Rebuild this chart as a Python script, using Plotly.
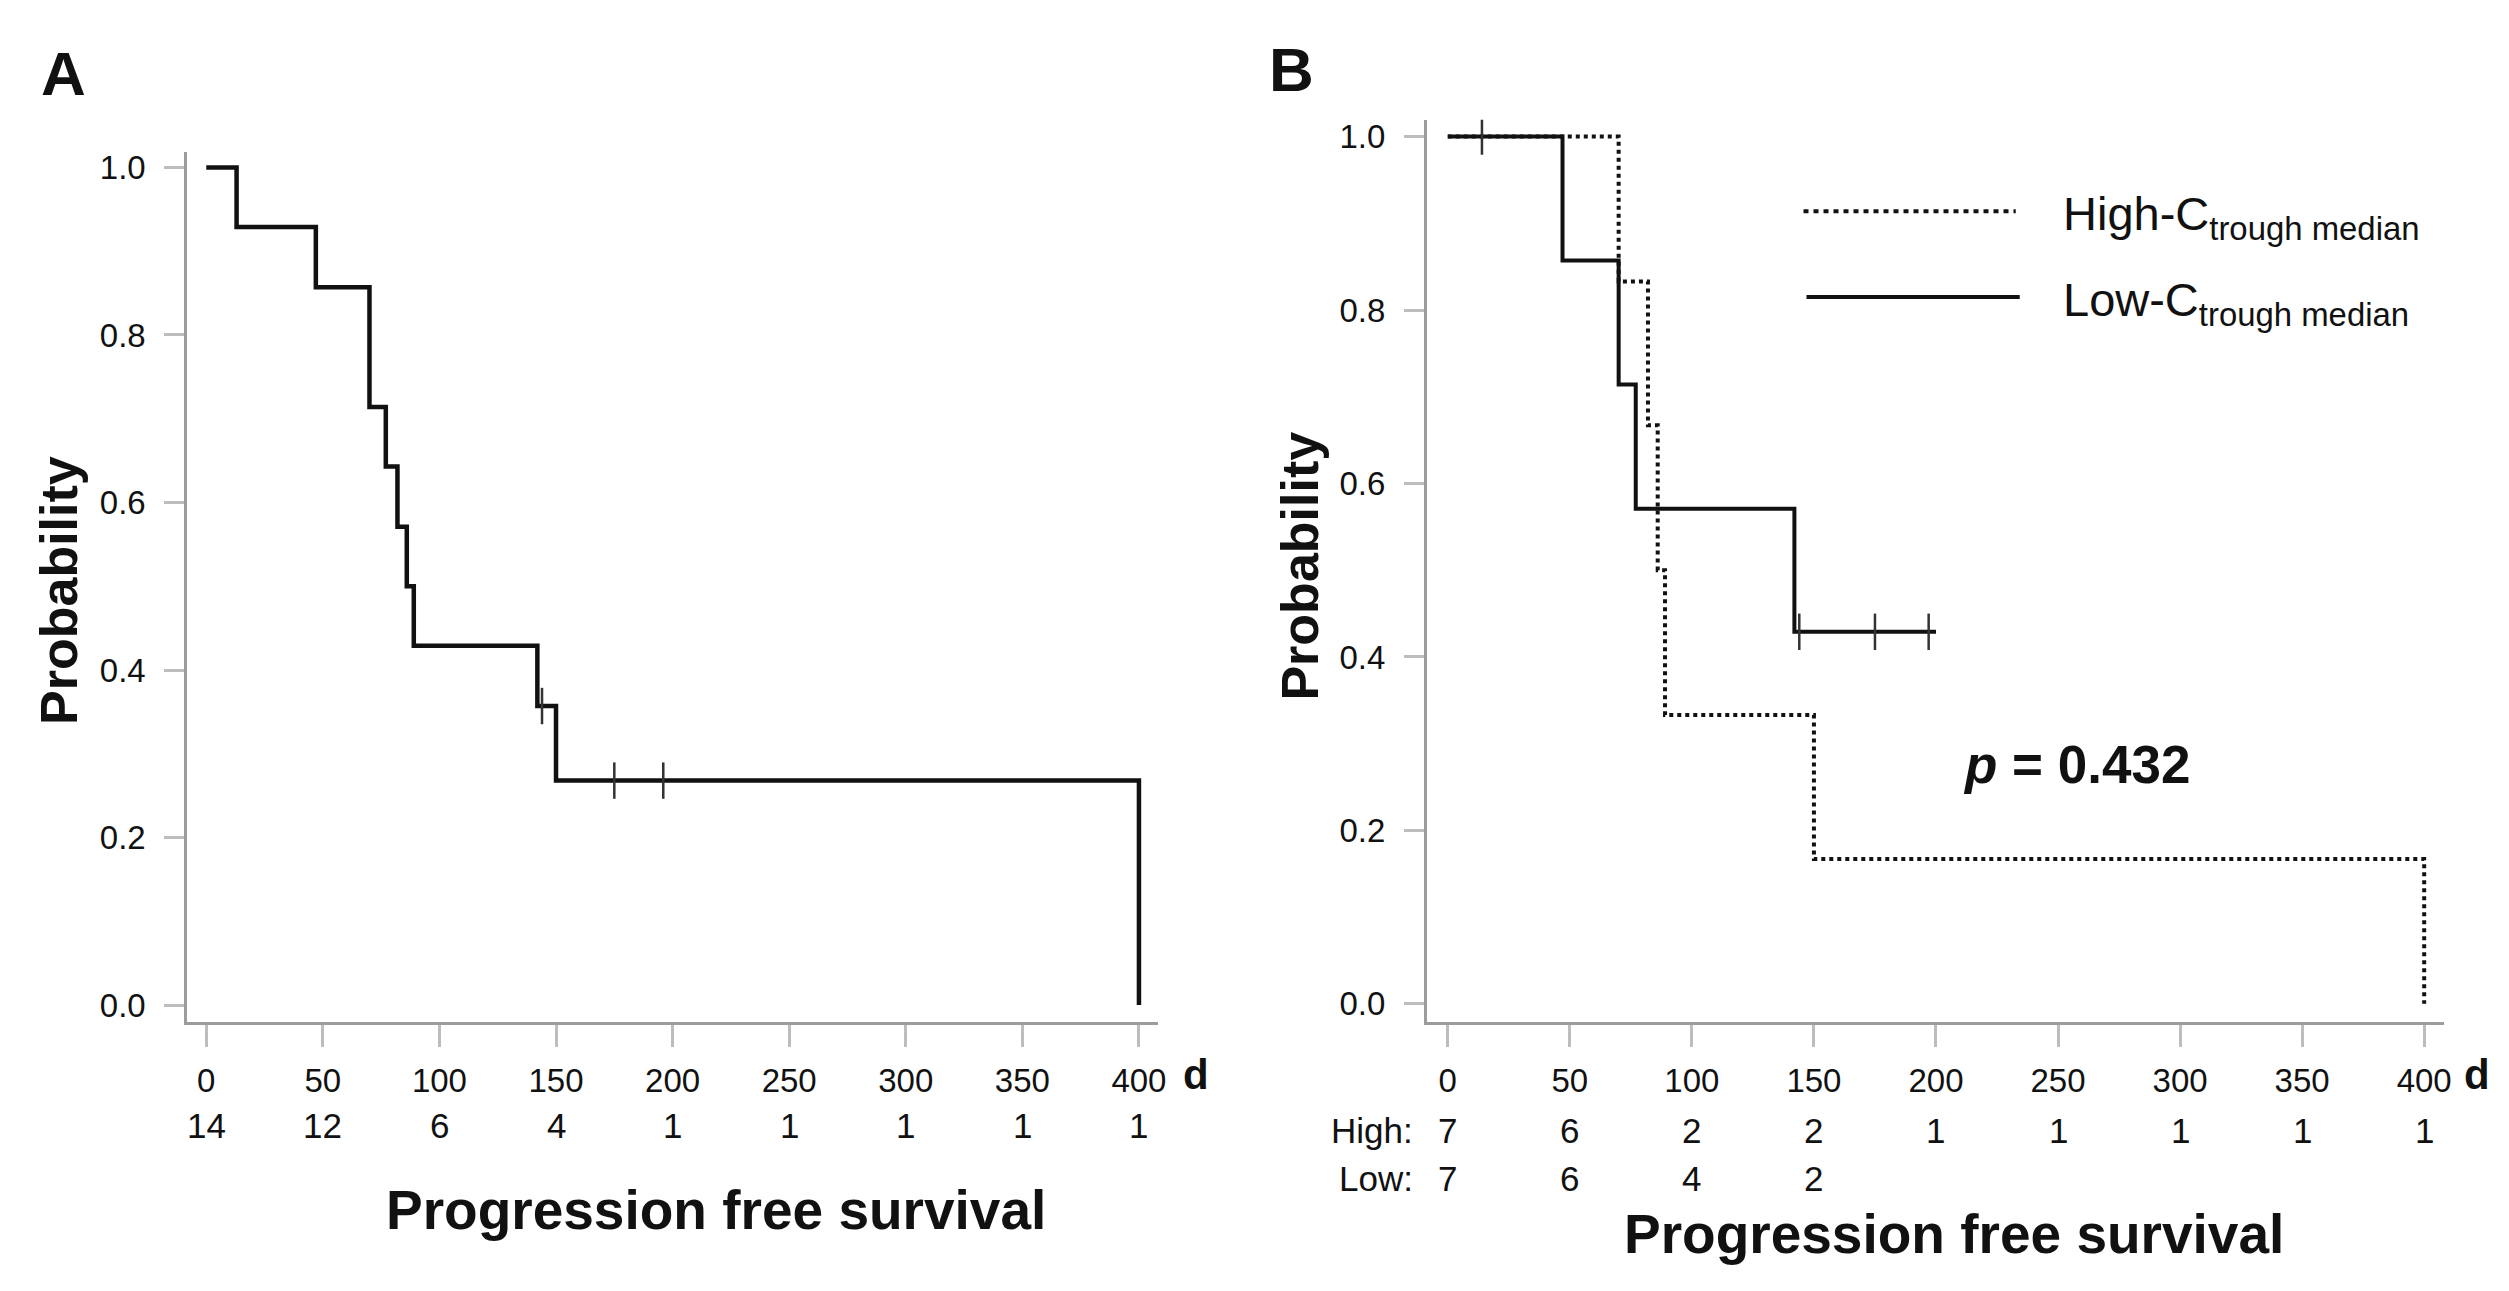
import plotly.graph_objects as go

# ---------------- data ----------------
x_ticks = [0, 50, 100, 150, 200, 250, 300, 350, 400]
y_ticks = [0.0, 0.2, 0.4, 0.6, 0.8, 1.0]

# Panel A (all patients)
a_times = [0, 13, 47, 70, 77, 82, 86, 89, 142, 150, 400]
a_surv = [1.0, 0.929, 0.857, 0.714, 0.643, 0.571, 0.500, 0.429, 0.357, 0.268, 0.0]
a_censor_times = [144, 175, 196]
a_censor_surv = [0.357, 0.268, 0.268]
a_at_risk = [14, 12, 6, 4, 1, 1, 1, 1, 1]

# Panel B: High-C trough median
hi_times = [0, 70, 82, 86, 89, 150, 400]
hi_surv = [1.0, 0.833, 0.667, 0.500, 0.333, 0.167, 0.0]
hi_censor_times = [14]
hi_censor_surv = [1.0]
hi_at_risk = [7, 6, 2, 2, 1, 1, 1, 1, 1]

# Panel B: Low-C trough median
lo_times = [0, 47, 70, 77, 142, 200]
lo_surv = [1.0, 0.857, 0.714, 0.571, 0.429, 0.429]
lo_censor_times = [144, 175, 197]
lo_censor_surv = [0.429, 0.429, 0.429]
lo_at_risk = [7, 6, 4, 2]

p_text = "<b><i>p</i> = 0.432</b>"

# ---------------- figure ----------------
W, H = 2509, 1291
FONT = "Arial, Liberation Sans, sans-serif"
BLACK = "#111111"


def fx(p):
    return p / W


def fy(p):
    return 1 - p / H


fig = go.Figure()

# Panel A curve
fig.add_trace(go.Scatter(x=a_times, y=a_surv, mode="lines", line=dict(shape="hv", color=BLACK, width=4.5),
                         xaxis="x", yaxis="y", showlegend=False))
fig.add_trace(go.Scatter(x=a_censor_times, y=a_censor_surv, mode="markers",
                         marker=dict(symbol="line-ns", size=26, line=dict(width=2.5, color="#333333")),
                         xaxis="x", yaxis="y", showlegend=False))

# Panel B curves
fig.add_trace(go.Scatter(x=hi_times, y=hi_surv, mode="lines",
                         line=dict(shape="hv", color=BLACK, width=4, dash="4px,4px"),
                         xaxis="x2", yaxis="y2", showlegend=False))
fig.add_trace(go.Scatter(x=lo_times, y=lo_surv, mode="lines",
                         line=dict(shape="hv", color=BLACK, width=4),
                         xaxis="x2", yaxis="y2", showlegend=False))
fig.add_trace(go.Scatter(x=hi_censor_times + lo_censor_times, y=hi_censor_surv + lo_censor_surv, mode="markers",
                         marker=dict(symbol="line-ns", size=26, line=dict(width=2.5, color="#333333")),
                         xaxis="x2", yaxis="y2", showlegend=False))

ax_common = dict(showgrid=False, zeroline=False, showline=True, linecolor="#9c9c9c", linewidth=3,
                 ticks="outside", tickcolor="#bdbdbd", tickwidth=3,
                 tickfont=dict(family=FONT, size=33, color="#111111"))

fig.update_layout(
    width=W, height=H,
    margin=dict(l=0, r=0, t=0, b=0),
    paper_bgcolor="white", plot_bgcolor="white",
    font=dict(family=FONT, color="#111111"),
    xaxis=dict(domain=[fx(188), fx(1162)], range=[-8.12, 408.1], tickvals=x_ticks, ticklen=22,
               ticklabelstandoff=6, anchor="y", **ax_common),
    yaxis=dict(domain=[fy(1023), fy(150)], range=[-0.02, 1.019], tickvals=y_ticks, tickformat=".1f",
               ticklen=20, ticklabelstandoff=12, anchor="x", **ax_common),
    xaxis2=dict(domain=[fx(1432), fx(2453)], range=[-8.57, 408.2], tickvals=x_ticks, ticklen=22,
                ticklabelstandoff=6, anchor="y2", **ax_common),
    yaxis2=dict(domain=[fy(1023), fy(118)], range=[-0.0207, 1.0195], tickvals=y_ticks, tickformat=".1f",
                ticklen=20, ticklabelstandoff=12, anchor="x2", **ax_common),
)

ann = []


def text(x, y, s, size, bold=False, xref="paper", xanchor="center", yanchor="middle", angle=0):
    ann.append(dict(x=x, y=y, xref=xref, yref="paper", text=(f"<b>{s}</b>" if bold else s),
                    showarrow=False, xanchor=xanchor, yanchor=yanchor, textangle=angle,
                    font=dict(family=FONT, size=size, color="#111111")))


# panel letters
text(fx(64), fy(72), "A", 62, bold=True)
text(fx(1296), fy(68), "B", 62, bold=True)

# axis titles
text(fx(59), fy(590), "Probability", 52, bold=True, angle=-90)
text(fx(1305), fy(566), "Probability", 52, bold=True, angle=-90)
text(fx(719), fy(1212), "Progression free survival", 55, bold=True)
text(fx(1961), fy(1236), "Progression free survival", 55, bold=True)

# unit labels
text(fx(1200), fy(1076), "d", 42, bold=True)
text(fx(2486), fy(1076), "d", 42, bold=True)

# numbers at risk
for t, n in zip(x_ticks, a_at_risk):
    text(t, fy(1127), str(n), 35, xref="x")
text(fx(1420), fy(1132), "High:", 35, xanchor="right")
text(fx(1420), fy(1180), "Low:", 35, xanchor="right")
for t, n in zip(x_ticks, hi_at_risk):
    text(t, fy(1132), str(n), 35, xref="x2")
for t, n in zip(x_ticks, lo_at_risk):
    text(t, fy(1180), str(n), 35, xref="x2")

# p value
text(fx(2084), fy(765), p_text, 53)

# legend
text(fx(2068), fy(216), "High-C<sub>trough median</sub>", 47, xanchor="left")
text(fx(2068), fy(302), "Low-C<sub>trough median</sub>", 47, xanchor="left")

fig.update_layout(annotations=ann)
fig.add_shape(type="line", xref="paper", yref="paper", x0=fx(1810), x1=fx(2023), y0=fy(210), y1=fy(210),
              line=dict(color=BLACK, width=4, dash="5px,5px"))
fig.add_shape(type="line", xref="paper", yref="paper", x0=fx(1813), x1=fx(2027), y0=fy(296), y1=fy(296),
              line=dict(color=BLACK, width=4))

fig.write_html("out.html", config={"displayModeBar": False},
               post_script="document.body.style.margin='0px';")
